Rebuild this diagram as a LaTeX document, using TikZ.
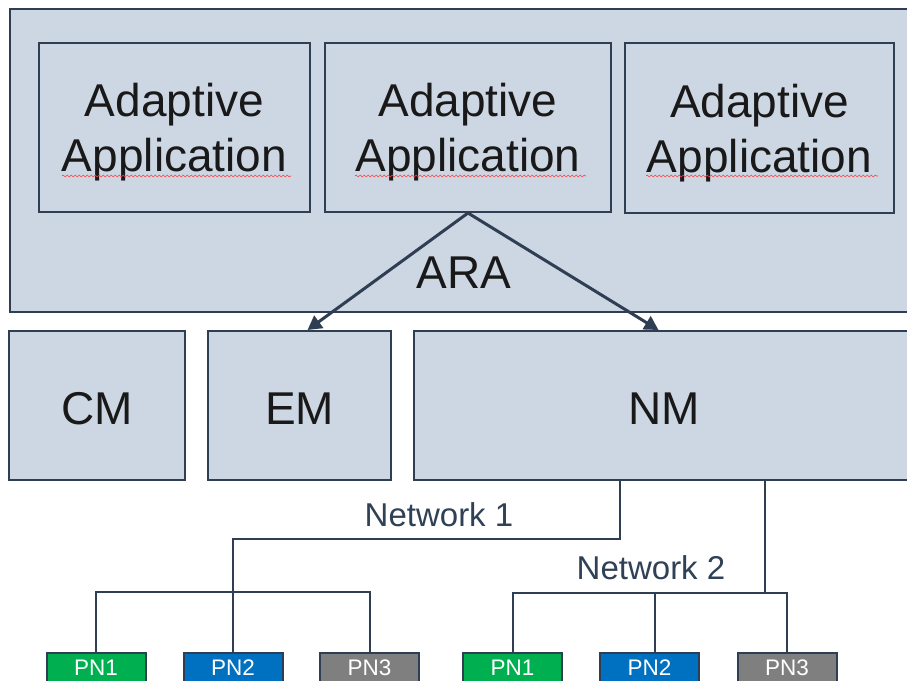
\documentclass[tikz,border=0pt]{standalone}
\usepackage{fontspec}
\setmainfont{Liberation Sans}
\usetikzlibrary{arrows.meta,decorations.pathmorphing}
\definecolor{boxfill}{HTML}{CDD7E3}
\definecolor{boxline}{HTML}{2F3E52}
\definecolor{nettext}{HTML}{2F4156}
\definecolor{pngreen}{HTML}{00B050}
\definecolor{pnblue}{HTML}{0070C0}
\definecolor{pngray}{HTML}{7F7F7F}
\tikzset{
  panel/.style={draw=boxline, fill=boxfill, line width=2pt, inner sep=0pt, anchor=center},
  apptext/.style={text=black!90, align=center, inner sep=0pt, font=\fontsize{46}{55}\selectfont},
  mgrbox/.style={panel, text=black!90, text height=37pt, text depth=0pt, font=\fontsize{46}{55}\selectfont},
  pnbox/.style={draw=boxline, line width=2pt, minimum width=99pt, minimum height=37pt, inner sep=0pt},
  pntext/.style={text=white, inner sep=0pt, font=\fontsize{22.5}{23}\selectfont},
  netline/.style={draw=boxline, line width=2pt},
  araarrow/.style={draw=boxline, line width=3pt, -{Triangle[length=14pt,width=15pt]}},
  netlabel/.style={text=nettext, font=\fontsize{33}{33}\selectfont, inner sep=0pt},
  squig/.style={draw=red!75, line width=0.6pt, decorate, decoration={snake, amplitude=1pt, segment length=4pt}}
}
\begin{document}
\begin{tikzpicture}[x=1pt,y=-1pt]
\useasboundingbox (0,0) rectangle (907,680);
\clip (0,0) rectangle (907,680);
% ARA platform
\node[panel, minimum width=905pt, minimum height=303pt] (ARA) at (462.5,160.5) {};
\node[text=black!90, font=\fontsize{46}{55}\selectfont, inner sep=0pt] (aralabel) at (464,273) {ARA};
% applications
\node[panel, minimum width=271pt, minimum height=169pt] (app1) at (174.5,127.5) {};
\node[panel, minimum width=286pt, minimum height=169pt] (app2) at (468,127.5) {};
\node[panel, minimum width=269pt, minimum height=170pt] (app3) at (759.5,128) {};
\node[apptext, yshift=-5pt] (app1t) at (app1.center) {Adaptive\\Application};
\node[apptext, yshift=-5pt] (app2t) at (app2.center) {Adaptive\\Application};
\node[apptext, yshift=-5pt] (app3t) at (app3.center) {Adaptive\\Application};
% spell-check squiggles
\draw[squig] (62,176) -- (291,176);
\draw[squig] (355,176) -- (586,176);
\draw[squig] (646,176) -- (878,176);
% managers
\node[mgrbox, minimum width=176pt, minimum height=149pt] (CM) at (97,405.5) {CM};
\node[mgrbox, minimum width=183pt, minimum height=149pt] (EM) at (299.5,405.5) {EM};
\node[mgrbox, minimum width=501pt, minimum height=149pt] (NM) at (664.5,405.5) {NM};
% arrows
\draw[araarrow] (app2.south) -- ([xshift=8pt]EM.north);
\draw[araarrow] (app2.south) -- ([xshift=-6pt]NM.north);
% PN boxes
\node[pnbox, fill=pngreen] (PN1a) at (96,671.5) {};
\node[pnbox, fill=pnblue] (PN2a) at (233,671.5) {};
\node[pnbox, fill=pngray] (PN3a) at (369.5,671.5) {};
\node[pnbox, fill=pngreen] (PN1b) at (512.5,671.5) {};
\node[pnbox, fill=pnblue] (PN2b) at (649.5,671.5) {};
\node[pnbox, fill=pngray] (PN3b) at (787,671.5) {};
\node[pntext] (PN1at) at (96,668) {PN1};
\node[pntext] (PN2at) at (233,668) {PN2};
\node[pntext] (PN3at) at (369.5,668) {PN3};
\node[pntext] (PN1bt) at (512.5,668) {PN1};
\node[pntext] (PN2bt) at (649.5,668) {PN2};
\node[pntext] (PN3bt) at (787,668) {PN3};
% networks
\coordinate (n1) at (620,480);
\coordinate (n2) at (765,480);
\draw[netline] (n1) -- ++(0,59) -| (PN2a.north);
\draw[netline] (PN1a.north) -- ++(0,-60) -| (PN3a.north);
\draw[netline] (PN1b.north) -- ++(0,-59) -| (PN3b.north);
\draw[netline] ([xshift=5pt]PN2b.north) -- ++(0,-59);
\draw[netline] (n2) -- ++(0,114);
\node[netlabel] (net1) at (439,515) {Network 1};
\node[netlabel] (net2) at (651,568) {Network 2};
\end{tikzpicture}
\end{document}
